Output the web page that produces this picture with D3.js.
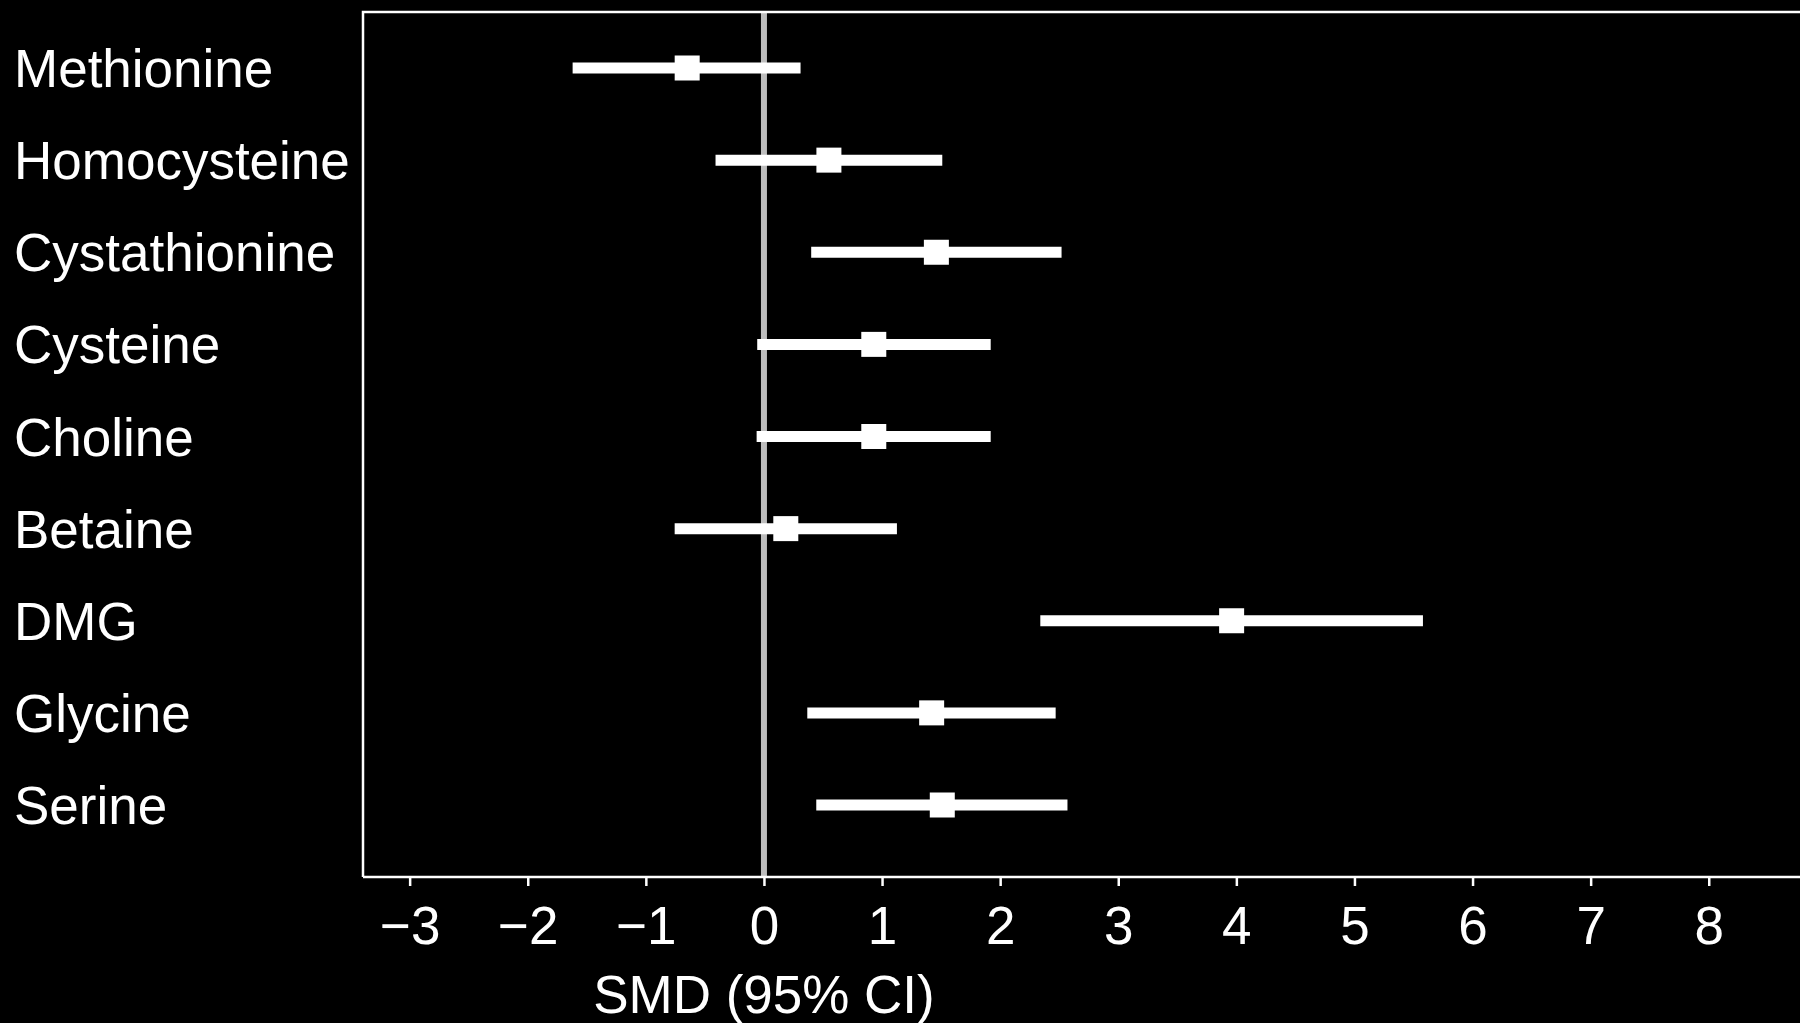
<!DOCTYPE html>
<html>
<head>
<meta charset="utf-8">
<script src="https://cdn.jsdelivr.net/npm/d3@7"></script>
<style>
html,body{margin:0;padding:0;background:#000;overflow:hidden;}
svg{display:block;}
</style>
</head>
<body>
<svg id="chart" width="1800" height="1023"></svg>
<script>
const categories = ["Methionine","Homocysteine","Cystathionine","Cysteine","Choline","Betaine","DMG","Glycine","Serine"];
const estimates  = [-0.65, 0.55, 1.46, 0.93, 0.93, 0.185, 3.96, 1.42, 1.51];
const lowerCI    = [-1.62, -0.41, 0.40, -0.057, -0.062, -0.756, 2.34, 0.367, 0.443];
const upperCI    = [0.31, 1.51, 2.52, 1.92, 1.92, 1.126, 5.58, 2.47, 2.57];
const xTicks     = [-3,-2,-1,0,1,2,3,4,5,6,7,8];
const xTitle     = "SMD (95% CI)";

const svg = d3.select("#chart");
const W = 1800, H = 1023;
const font = "'Liberation Sans', Arial, Helvetica, sans-serif";
svg.append("rect").attr("width",W).attr("height",H).attr("fill","#000");

const x = d3.scaleLinear().domain([-3.395, 8.9]).range([363, 363 + 12.295*118.1]);
const y = d3.scalePoint().domain(categories).range([68, 805]);

const frameTop = 12, frameBottom = 877;

// zero reference line
svg.append("line")
  .attr("x1", x(0)).attr("x2", x(0))
  .attr("y1", frameTop).attr("y2", frameBottom)
  .attr("stroke", "#bdbdbd").attr("stroke-width", 6);

// frame (left, top)
svg.append("path")
  .attr("d", `M${x(-3.395)},${frameBottom}V${frameTop}H${W+10}`)
  .attr("fill","none").attr("stroke","#fff").attr("stroke-width",2.5);

// CI lines
const rows = categories.map((c,i)=>({c, est:estimates[i], lo:lowerCI[i], hi:upperCI[i]}));
svg.append("g").selectAll("line").data(rows).join("line")
  .attr("x1", d=>x(d.lo)).attr("x2", d=>x(d.hi))
  .attr("y1", d=>y(d.c)).attr("y2", d=>y(d.c))
  .attr("stroke","#fff").attr("stroke-width",11);

// point squares
const sq = 25;
svg.append("g").selectAll("rect").data(rows).join("rect")
  .attr("x", d=>x(d.est)-sq/2).attr("y", d=>y(d.c)-sq/2)
  .attr("width", sq).attr("height", sq).attr("fill","#fff");

// category labels
svg.append("g").selectAll("text").data(categories).join("text")
  .attr("x", 14).attr("y", d=>y(d)+19)
  .attr("fill","#fff").attr("font-family",font).attr("font-size",53)
  .text(d=>d);

// x axis
const axis = d3.axisBottom(x).tickValues(xTicks)
  .tickFormat(d=> d<0 ? "\u2212"+Math.abs(d) : String(d))
  .tickSize(9).tickSizeOuter(0).tickPadding(20);
const gx = svg.append("g").attr("transform",`translate(0,${frameBottom})`).call(axis);
gx.select(".domain").attr("stroke","#fff").attr("stroke-width",2.5)
  .attr("d", `M${x(-3.395)},0H${W+10}`);
gx.selectAll(".tick line").attr("stroke","#fff").attr("stroke-width",2.5);
gx.selectAll(".tick text").attr("fill","#fff").attr("font-family",font).attr("font-size",53);

// x title
svg.append("text")
  .attr("x", x(0)).attr("y", 1013)
  .attr("text-anchor","middle")
  .attr("fill","#fff").attr("font-family",font).attr("font-size",53)
  .text(xTitle);
</script>
</body>
</html>
